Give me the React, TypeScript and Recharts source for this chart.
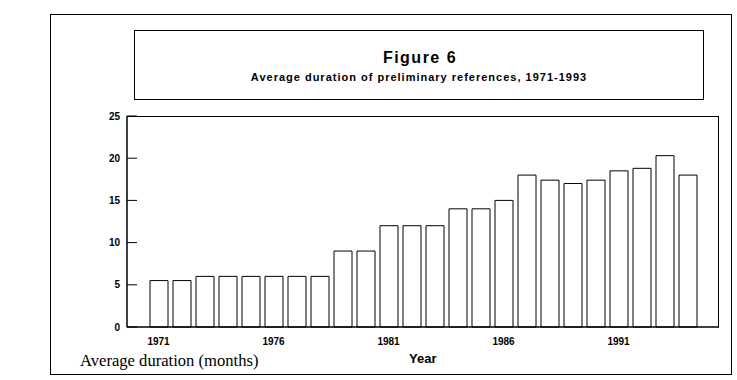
import { BarChart, Bar, XAxis, YAxis } from "recharts";

const years = [
  "1971", "1972", "1973", "1974", "1975", "1976", "1977", "1978",
  "1979", "1980", "1981", "1982", "1983", "1984", "1985", "1986",
  "1987", "1988", "1989", "1990", "1991", "1992", "1993", "1994",
];

// average duration in months
const durations = [
  5.5, 5.5, 6, 6, 6, 6, 6, 6,
  9, 9, 12, 12, 12, 14, 14, 15,
  18, 17.4, 17, 17.4, 18.5, 18.8, 20.3, 18,
];

const yTicks = [0, 5, 10, 15, 20, 25];

const data = years.map((year, i) => ({ year, value: durations[i] }));

const SANS = "'Liberation Sans', Arial, sans-serif";

// y ticks point into the plot, label sits left of the axis
const YTick = ({ x, y, payload }: any) => (
  <g>
    <line x1={x} y1={y} x2={x + 10} y2={y} stroke="#000" strokeWidth={1} />
    <text
      x={x - 7}
      y={y}
      dy="0.355em"
      textAnchor="end"
      fontFamily={SANS}
      fontWeight="bold"
      fontSize={10}
      fill="#000"
    >
      {payload.value}
    </text>
  </g>
);

export default function App() {
  return (
    <div style={{ position: "absolute", left: 0, top: 0, width: 737, height: 380, background: "#fff" }}>
      <BarChart
        width={737}
        height={380}
        data={data}
        margin={{ top: 116, right: 18, bottom: 23, left: 87 }}
      >
        <XAxis
          dataKey="year"
          interval={4}
          tickLine={false}
          tickSize={0}
          tickMargin={11}
          height={30}
          padding={{ left: 20, right: 20 }}
          axisLine={{ stroke: "#000", strokeWidth: 1 }}
          tick={{ fontFamily: SANS, fontWeight: "bold", fontSize: 10, fill: "#000" }}
        />
        <YAxis
          type="number"
          domain={[0, 25]}
          ticks={yTicks}
          width={40}
          tickLine={false}
          tickSize={0}
          tickMargin={0}
          axisLine={{ stroke: "#000", strokeWidth: 1 }}
          tick={<YTick />}
        />
        <Bar
          dataKey="value"
          fill="#fff"
          stroke="#000"
          strokeWidth={1}
          barSize={18}
          isAnimationActive={false}
        />
      </BarChart>
      <svg
        width={737}
        height={380}
        style={{ position: "absolute", left: 0, top: 0, pointerEvents: "none" }}
      >
        {/* outer frame */}
        <rect x={50.5} y={14.5} width={681} height={360} fill="none" stroke="#000" strokeWidth={1} />
        {/* title box */}
        <rect x={134.5} y={30.5} width={569} height={69} fill="none" stroke="#000" strokeWidth={1} />
        {/* plot frame top and right */}
        <rect x={127} y={116.5} width={591.5} height={210.5} fill="none" stroke="#000" strokeWidth={1} />
        <text x={420} y={63} textAnchor="middle" fontFamily={SANS} fontWeight="bold" fontSize={16} letterSpacing={1.5} fill="#000">
          Figure 6
        </text>
        <text x={419} y={81} textAnchor="middle" fontFamily={SANS} fontWeight="bold" fontSize={11} letterSpacing={1} fill="#000">
          Average duration of preliminary references, 1971-1993
        </text>
        <text x={80} y={366} fontFamily="'Liberation Serif', 'Times New Roman', serif" fontSize={16.6} fill="#000">
          Average duration (months)
        </text>
        <text x={409} y={363} fontFamily={SANS} fontWeight="bold" fontSize={13} fill="#000">
          Year
        </text>
      </svg>
    </div>
  );
}
